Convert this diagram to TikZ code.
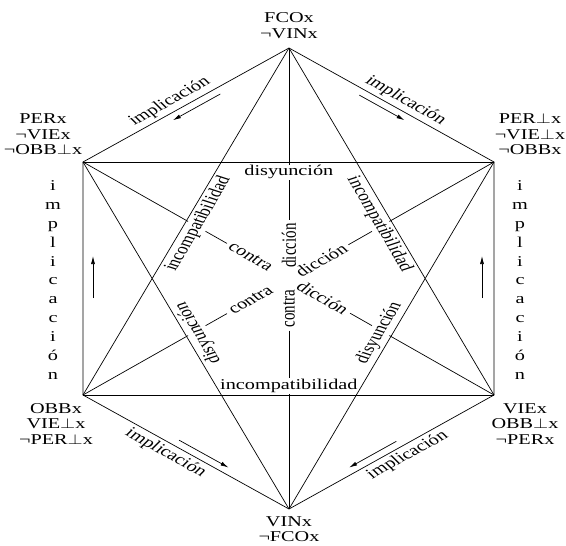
\documentclass[tikz,border=0pt]{standalone}
\usepackage{fontspec}
\setmainfont{Liberation Serif}
\usetikzlibrary{arrows.meta,positioning,calc}
\newcommand{\ortho}{$\perp$}

\begin{document}
\begin{tikzpicture}[
  x=1pt,y=-1pt,
  font=\fontsize{15}{15.5}\selectfont,
  line width=0.7pt,
  txt/.style={xscale=1.35},
  corner/.style={txt,align=center,inner sep=1pt},
  side/.style={txt,fill=white,inner sep=1pt,outer sep=1.5pt},
  cd/.style={txt,inner sep=3pt},
  impl/.style={txt,inner sep=1pt,outer sep=2pt},
  vert/.style={txt,align=center,inner sep=0pt,font=\fontsize{15}{18.9}\selectfont},
  arr/.style={-{Latex[length=8pt,width=4pt]},line width=0.7pt}
]
\useasboundingbox (0,0) rectangle (566,546);
% hexagon corners
\coordinate (T) at (289,48);
\coordinate (UL) at (83,162);
\coordinate (UR) at (494,162);
\coordinate (LL) at (83,395);
\coordinate (LR) at (494,395);
\coordinate (B) at (289,509);
\coordinate (O) at (289,278.5);
% inner hexagon of the star
\coordinate (h1) at (intersection of T--LL and UL--UR);
\coordinate (h2) at (intersection of T--LR and UL--UR);
\coordinate (h3) at (intersection of T--LR and B--UR);
\coordinate (h4) at (intersection of B--UR and LL--LR);
\coordinate (h5) at (intersection of B--UL and LL--LR);
\coordinate (h6) at (intersection of T--LL and B--UL);

% contra / diccion
\node[cd,rotate=90] (dV) at ($(O)!33pt!(T)$) {dicción};
\node[cd,rotate=90] (cV) at ($(O)!30pt!(B)$) {contra};
\node[cd,rotate=-37.4] (cA) at ($(O)!44pt!(UL)$) {contra};
\node[cd,rotate=-37.4] (dA) at ($(O)!39pt!(LR)$) {dicción};
\node[cd,rotate=37.4] (dB) at ($(O)!37pt!(UR)$) {dicción};
\node[cd,rotate=37.4] (cB) at ($(O)!44pt!(LL)$) {contra};
\draw (T) -- (dV);
\draw (cV) -- (B);
\draw (UL) -- (cA);
\draw (dA) -- (LR);
\draw (UR) -- (dB);
\draw (cB) -- (LL);

% labels of the inner hexagon
\node[side,anchor=north,yshift=-1pt] (disT) at ($(h1)!.5!(h2)$) {disyunción};
\node[side,anchor=north,rotate=-66.3] (incR) at ($(h2)!.5!(h3)$) {incompatibilidad};
\node[side,anchor=south,rotate=66.3] (disR) at ($(h3)!.5!(h4)$) {disyunción};
\node[side,anchor=south] (incB) at ($(h4)!.5!(h5)$) {incompatibilidad};
\node[side,anchor=north,rotate=113.7] (disL) at ($(h5)!.5!(h6)$) {disyunción};
\node[side,anchor=north,rotate=66.3] (incL) at ($(h6)!.5!(h1)$) {incompatibilidad};

% hexagon and star
\draw (T) -- (UL) -- (LL) -- (B) -- (LR) -- (UR) -- cycle;
\draw (UL) -- (UR) (LL) -- (LR);
\draw (T) -- (LL) (T) -- (LR) (B) -- (UL) (B) -- (UR);

% corners
\node[corner,above=8pt of T] (lT) {FCOx\\¬VINx};
\node[corner,above left=6pt and -1pt of UL] (lUL) {PERx\\¬VIEx\\¬OBB\ortho x};
\node[corner,above right=6pt and -1pt of UR] (lUR) {PER\ortho x\\¬VIE\ortho x\\¬OBBx};
\node[corner,below=7pt of LL,xshift=-20pt] (lLL) {OBBx\\VIE\ortho x\\¬PER\ortho x};
\node[corner,below=7pt of LR,xshift=23pt] (lLR) {VIEx\\OBB\ortho x\\¬PERx};
\node[corner,below=6pt of B] (lB) {VINx\\¬FCOx};

% implicacion
\path (UL) -- (T) node[impl,pos=.46,anchor=south,rotate=36.7] (iUL) {implicación};
\path (T) -- (UR) node[impl,pos=.53,anchor=south,rotate=-36.7] (iUR) {implicación};
\path (LL) -- (B) node[impl,pos=.44,anchor=north,rotate=-36.7] (iLL) {implicación};
\path (B) -- (LR) node[impl,pos=.54,anchor=north,rotate=36.7] (iLR) {implicación};
\node[vert] (vL) at (53,280) {i\\m\\p\\l\\i\\c\\a\\c\\i\\ó\\n};
\node[vert] (vR) at (520,280) {i\\m\\p\\l\\i\\c\\a\\c\\i\\ó\\n};

\coordinate (a1) at ($(T)!.35!(UL)!7pt!90:(UL)$);
\coordinate (a2) at ($(T)!.58!(UL)!7pt!90:(UL)$);
\coordinate (a3) at ($(T)!.36!(UR)!7pt!-90:(UR)$);
\coordinate (a4) at ($(T)!.58!(UR)!7pt!-90:(UR)$);
\coordinate (a5) at ($(LL)!.45!(B)!7pt!90:(B)$);
\coordinate (a6) at ($(LL)!.69!(B)!7pt!90:(B)$);
\coordinate (a7) at ($(LR)!.46!(B)!7pt!-90:(B)$);
\coordinate (a8) at ($(LR)!.69!(B)!7pt!-90:(B)$);
\coordinate (a9) at (93,298);
\coordinate (a10) at (93,256);
\coordinate (a11) at (482,298);
\coordinate (a12) at (482,256);
\draw[arr] (a1) -- (a2);
\draw[arr] (a3) -- (a4);
\draw[arr] (a5) -- (a6);
\draw[arr] (a7) -- (a8);
\draw[arr] (a9) -- (a10);
\draw[arr] (a11) -- (a12);
\end{tikzpicture}
\end{document}
